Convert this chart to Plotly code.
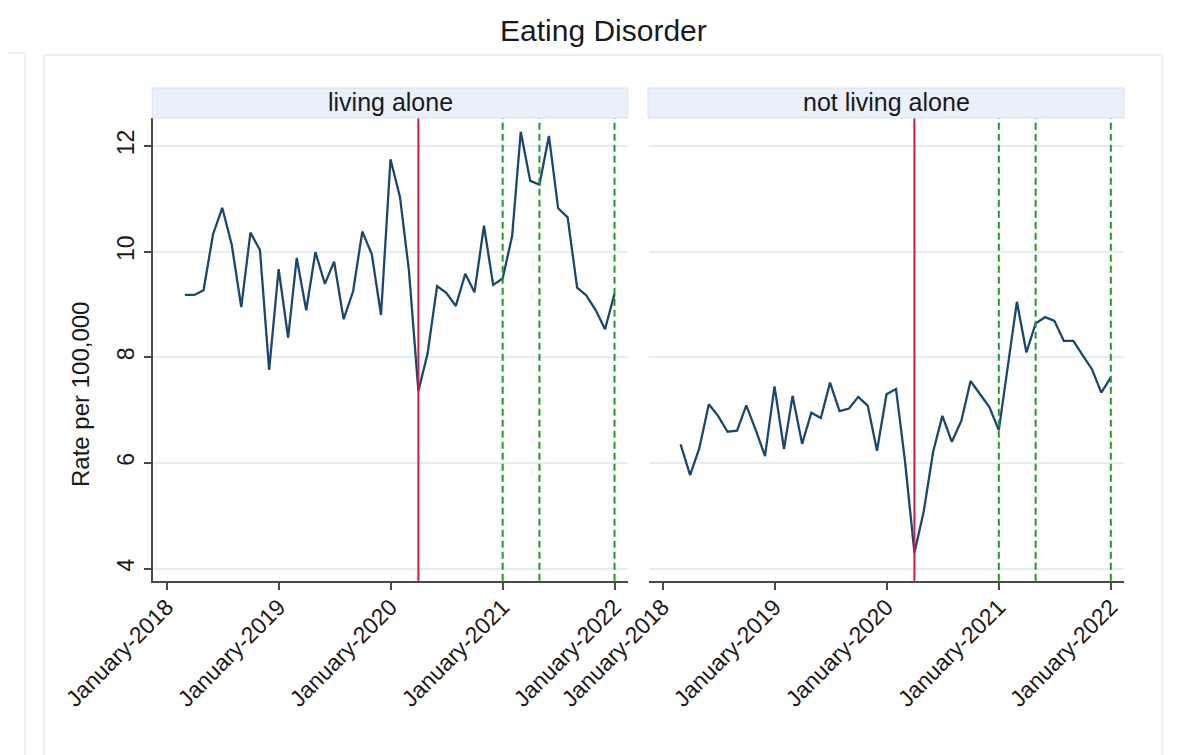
import pandas as pd
import plotly.graph_objects as go

# the page body adds an 8px margin, so the figure is 8px smaller on each axis
# and all reference pixel positions are shifted by that offset
PAGE_OFF = 8
W, H = 1188 - PAGE_OFF, 755 - PAGE_OFF
FONT = "Liberation Sans, Arial, Helvetica, sans-serif"
NAVY = "#1a476f"
RED = "#d1193e"
GREEN = "#1f9a1f"
GRID = "#e4eeef"
AXIS = "#4a4a4a"
TXT = "#1a1a1a"

# monthly observations, March 2018 - January 2022
months = pd.date_range("2018-03-01", "2022-01-01", freq="MS")

living_alone = [
    9.18, 9.18, 9.27, 10.33, 10.83, 10.13, 8.95, 10.36, 10.03, 7.76,
    9.67, 8.37, 9.88, 8.89, 9.99, 9.39, 9.81, 8.72, 9.25, 10.38,
    9.95, 8.80, 11.75, 11.03, 9.65, 7.36, 8.07, 9.35, 9.22, 8.97,
    9.58, 9.23, 10.49, 9.37, 9.49, 10.30, 12.27, 11.34, 11.27, 12.19,
    10.82, 10.65, 9.32, 9.17, 8.89, 8.53, 9.20,
]
not_living_alone = [
    6.35, 5.77, 6.28, 7.11, 6.89, 6.59, 6.61, 7.09, 6.62, 6.13,
    7.45, 6.26, 7.27, 6.36, 6.95, 6.85, 7.52, 6.98, 7.03, 7.25,
    7.08, 6.23, 7.30, 7.40, 6.05, 4.30, 5.07, 6.21, 6.89, 6.40,
    6.80, 7.55, 7.30, 7.06, 6.62, 7.90, 9.05, 8.09, 8.64, 8.76,
    8.69, 8.31, 8.31, 8.04, 7.77, 7.33, 7.62,
]

panels = ["living alone", "not living alone"]
series = [living_alone, not_living_alone]

lockdown_date = "2020-04-01"
restriction_dates = ["2021-01-01", "2021-05-01", "2022-01-01"]

xtick_vals = ["2018-01-01", "2019-01-01", "2020-01-01", "2021-01-01", "2022-01-01"]
xtick_text = ["January-2018", "January-2019", "January-2020", "January-2021", "January-2022"]
ytick_vals = [4, 6, 8, 10, 12]

x_range = ["2017-11-18", "2022-02-13"]
y_range = [3.77, 12.53]


def px_x(p):
    return (p - PAGE_OFF) / W


def px_y(p):
    return 1 - (p - PAGE_OFF) / H


domains = [(px_x(153.3), px_x(627.7)), (px_x(649), px_x(1124))]
y_dom = (px_y(580.7), px_y(118))

fig = go.Figure()
for i, (name, vals) in enumerate(zip(panels, series)):
    xa = "x" if i == 0 else "x2"
    ya = "y" if i == 0 else "y2"
    fig.add_trace(go.Scatter(
        x=months, y=vals, mode="lines", name=name,
        line=dict(color=NAVY, width=2.3),
        xaxis=xa, yaxis=ya, showlegend=False,
    ))
    fig.add_shape(type="line", xref=xa, yref=f"{ya} domain",
                  x0=lockdown_date, x1=lockdown_date, y0=0, y1=1,
                  line=dict(color=RED, width=2))
    for d in restriction_dates:
        fig.add_shape(type="line", xref=xa, yref=f"{ya} domain",
                      x0=d, x1=d, y0=0, y1=1,
                      line=dict(color=GREEN, width=2, dash="7px,4px"))
    # strip
    x0, x1 = domains[i]
    fig.add_shape(type="rect", xref="paper", yref="paper",
                  x0=x0 - 1 / W, x1=x1, y0=px_y(118), y1=px_y(88),
                  fillcolor="#eaf0fa", line=dict(color="#d6e2ef", width=1))
    fig.add_annotation(x=(x0 + x1) / 2, y=px_y(102), xref="paper", yref="paper",
                       xanchor="center", yanchor="middle",
                       text=name, showarrow=False,
                       font=dict(family=FONT, size=25, color=TXT))

axis_common = dict(
    range=x_range, type="date", tickvals=xtick_vals, ticktext=xtick_text,
    tickangle=-45, ticks="outside", ticklen=8, tickwidth=1.5, tickcolor=AXIS,
    showline=True, linecolor=AXIS, linewidth=1.5, showgrid=False, zeroline=False,
    automargin=False, ticklabelstandoff=-6,
    tickfont=dict(family=FONT, size=23, color=TXT),
)
fig.update_layout(
    xaxis=dict(domain=domains[0], anchor="y", **axis_common),
    xaxis2=dict(domain=domains[1], anchor="y2", **axis_common),
    yaxis=dict(
        domain=y_dom, anchor="x", range=y_range, tickvals=ytick_vals,
        tickangle=-90, ticks="outside", ticklen=8, tickwidth=1.5, tickcolor=AXIS,
        showline=True, linecolor=AXIS, linewidth=1.5, automargin=False,
        showgrid=True, gridcolor=GRID, gridwidth=1.5, zeroline=False,
        tickfont=dict(family=FONT, size=23, color=TXT),
    ),
    yaxis2=dict(
        domain=y_dom, anchor="x2", range=y_range, tickvals=ytick_vals,
        showticklabels=False, ticks="", showline=False, automargin=False,
        showgrid=True, gridcolor=GRID, gridwidth=1.5, zeroline=False,
    ),
    width=W, height=H,
    margin=dict(l=0, r=0, t=0, b=0, autoexpand=False),
    paper_bgcolor="white", plot_bgcolor="white",
    font=dict(family=FONT, color=TXT),
)

# y axis title
fig.add_annotation(x=px_x(80), y=px_y(395), xref="paper", yref="paper",
                   xanchor="center", yanchor="middle",
                   text="Rate per 100,000", textangle=-90, showarrow=False,
                   font=dict(family=FONT, size=24, color=TXT))
# main title
fig.add_annotation(x=px_x(603.5), y=px_y(30), xref="paper", yref="paper",
                   xanchor="center", yanchor="middle",
                   text="Eating Disorder", showarrow=False,
                   font=dict(family=FONT, size=30, color=TXT))

# outer graph frames
fig.add_shape(type="rect", xref="paper", yref="paper",
              x0=px_x(44), x1=px_x(1162), y0=px_y(780), y1=px_y(55),
              line=dict(color="#dfeeee", width=1.5), layer="below")
fig.add_shape(type="rect", xref="paper", yref="paper",
              x0=px_x(-20), x1=px_x(25), y0=px_y(780), y1=px_y(53),
              line=dict(color="#dfeeee", width=1.5), layer="below")

fig.write_html("out.html")
